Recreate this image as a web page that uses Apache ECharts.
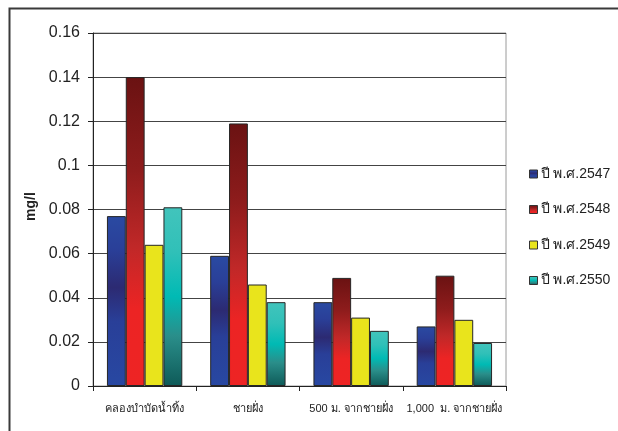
<!DOCTYPE html>
<html>
<head>
<meta charset="utf-8">
<script src="https://cdn.jsdelivr.net/npm/echarts@6/dist/echarts.min.js"></script>
<style>
  html, body { margin: 0; padding: 0; background: #fff; }
  #chart { width: 618px; height: 431px; }
</style>
</head>
<body>
<div id="chart"></div>
<script>
// Sampling stations along the shore
const categories = ['คลองบำบัดน้ำทิ้ง', 'ชายฝั่ง', '500 ม. จากชายฝั่ง', '1,000  ม. จากชายฝั่ง'];

// Concentration (mg/l) per year
const y2547 = [0.077, 0.059, 0.038, 0.027];
const y2548 = [0.140, 0.119, 0.049, 0.050];
const y2549 = [0.064, 0.046, 0.031, 0.030];
const y2550 = [0.081, 0.038, 0.025, 0.0195];

const seriesNames = ['ปี พ.ศ.2547', 'ปี พ.ศ.2548', 'ปี พ.ศ.2549', 'ปี พ.ศ.2550'];
const yTicks = { min: 0, max: 0.16, interval: 0.02 };

const grad = stops => new echarts.graphic.LinearGradient(0, 0, 0, 1,
  stops.map(([offset, color]) => ({ offset, color })));

const fills = [
  grad([[0, '#2a4aa2'], [0.2, '#2a3f98'], [0.42, '#2c2a72'], [0.62, '#293f98'], [1, '#2848a2']]),
  grad([[0, '#6a1212'], [0.3, '#8e1c1c'], [0.55, '#c02828'], [0.75, '#ec2424'], [1, '#ee2424']]),
  grad([[0, '#e9e41c'], [1, '#e9e41c']]),
  grad([[0, '#42c4bc'], [0.25, '#30c0b8'], [0.5, '#00bab4'], [0.72, '#2a8e8a'], [1, '#0e5a58']])
];

const chart = echarts.init(document.getElementById('chart'), null, { renderer: 'canvas' });

const font = "'Liberation Sans', Arial, 'Noto Sans', sans-serif";

chart.setOption({
  animation: false,
  backgroundColor: '#fff',
  textStyle: { fontFamily: font },
  graphic: [{
    type: 'rect',
    left: 7, top: 6,
    shape: { width: 700, height: 500 },
    style: { fill: 'none', stroke: '#3a3a3a', lineWidth: 2 },
    silent: true
  }],
  grid: {
    left: 93, top: 33, right: 112, bottom: 45,
    show: true, borderColor: '#9a9a9a', borderWidth: 1, backgroundColor: 'transparent'
  },
  legend: {
    orient: 'vertical',
    left: 529, top: 167,
    padding: 0,
    itemWidth: 8, itemHeight: 8, itemGap: 21.5,
    icon: 'rect',
    data: seriesNames,
    textStyle: { fontSize: 14, color: '#222', fontFamily: font, padding: [0, 0, 0, -2] },
    itemStyle: { borderColor: '#333', borderWidth: 1 }
  },
  xAxis: {
    type: 'category',
    data: categories,
    axisLine: { lineStyle: { color: '#222', width: 1 } },
    axisTick: { show: true, length: 5, lineStyle: { color: '#222' } },
    axisLabel: { fontSize: 11, color: '#222', margin: 17, interval: 0 },
    splitLine: { show: false }
  },
  yAxis: {
    type: 'value',
    min: yTicks.min, max: yTicks.max, interval: yTicks.interval,
    name: 'mg/l',
    nameLocation: 'middle',
    nameGap: 55,
    nameRotate: 90,
    nameTextStyle: { fontSize: 14, fontWeight: 'bold', color: '#222', padding: [0, 0, 0, 6] },
    axisLine: { show: true, lineStyle: { color: '#222', width: 1 } },
    axisTick: { show: true, length: 5, lineStyle: { color: '#222' } },
    axisLabel: {
      fontSize: 16, color: '#222', margin: 13,
      formatter: v => (Math.round(v * 100) / 100).toString()
    },
    splitLine: { show: true, lineStyle: { color: '#444', width: 1 } }
  },
  series: [y2547, y2548, y2549, y2550].map((data, i) => ({
    name: seriesNames[i],
    type: 'bar',
    data,
    barGap: '0%',
    barCategoryGap: '27%',
    legendHoverLink: false,
    itemStyle: { color: fills[i], borderColor: '#262626', borderWidth: 1 },
    emphasis: { disabled: true }
  }))
});
</script>
</body>
</html>
